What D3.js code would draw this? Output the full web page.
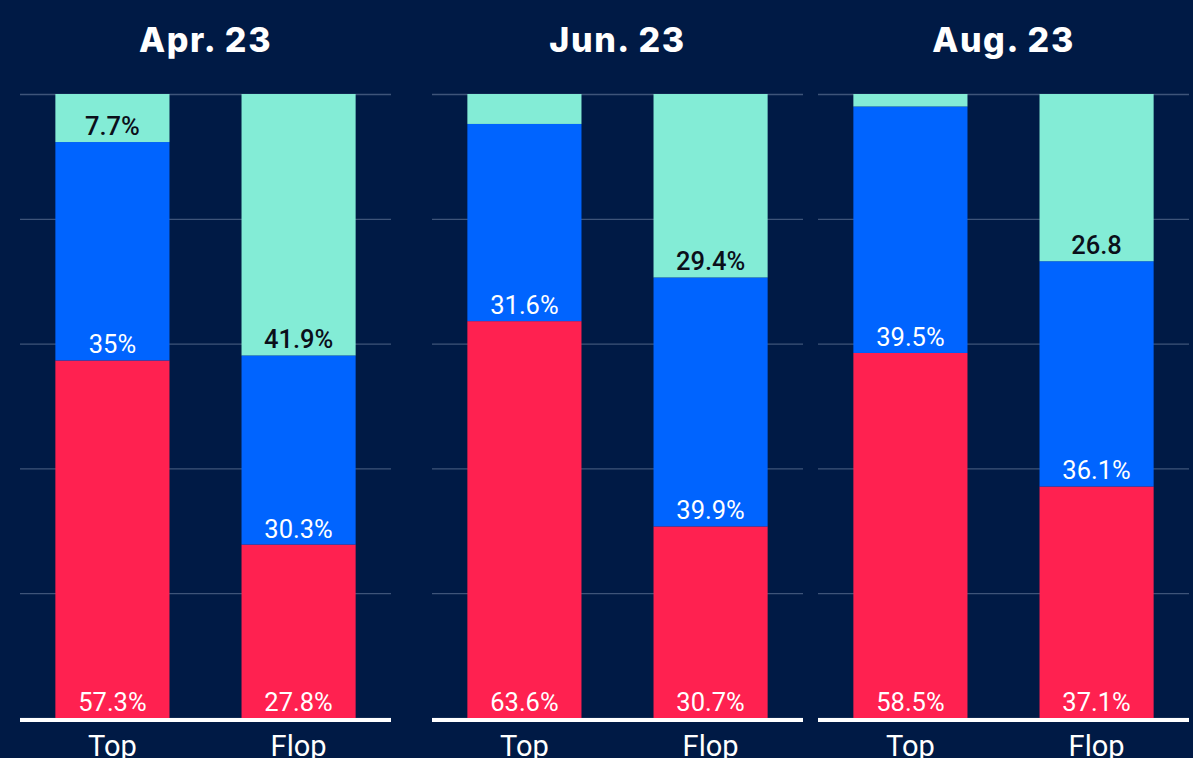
<!DOCTYPE html>
<html>
<head>
<meta charset="utf-8">
<script src="https://cdn.jsdelivr.net/npm/d3@7"></script>
<style>
  html, body { margin: 0; padding: 0; background: #001a45; }
  svg { display: block; }
</style>
</head>
<body>
<div id="chart"></div>
<script>
// Data
const periods = ["Apr. 23", "Jun. 23", "Aug. 23"];
const groups = ["Top", "Flop"];
// per period: [Top, Flop]
const redValues   = [[57.3, 27.8], [63.6, 30.7], [58.5, 37.1]];
const blueValues  = [[35.0, 30.3], [31.6, 39.9], [39.5, 36.1]];
const tealValues  = [[7.7, 41.9], [4.8, 29.4], [2.0, 26.8]];
const redLabels   = [["57.3%", "27.8%"], ["63.6%", "30.7%"], ["58.5%", "37.1%"]];
const blueLabels  = [["35%", "30.3%"], ["31.6%", "39.9%"], ["39.5%", "36.1%"]];
const tealLabels  = [["7.7%", "41.9%"], [null, "29.4%"], [null, "26.8"]];
const yTicks = [0, 20, 40, 60, 80, 100];

const W = 1193, H = 758;
const panelX = [20, 432, 818];
const panelW = 371;
const plotTop = 94, plotBottom = 718;

const series = [
  {values: redValues, labels: redLabels, color: "#ff2150", text: "#ffffff"},
  {values: blueValues, labels: blueLabels, color: "#0064ff", text: "#ffffff"},
  {values: tealValues, labels: tealLabels, color: "#83ecd6", text: "#0b0f1a"}
];

const svg = d3.select("#chart").append("svg")
  .attr("width", W).attr("height", H);

svg.append("rect").attr("width", W).attr("height", H).attr("fill", "#001a45");

const y = d3.scaleLinear().domain([0, 100]).range([plotBottom, plotTop]);
const x = d3.scaleBand().domain(groups).range([0, panelW])
  .paddingInner(0.387).paddingOuter(0.19);

periods.forEach((p, pi) => {
  const g = svg.append("g").attr("transform", `translate(${panelX[pi]},0)`);

  // gridlines
  g.append("g")
    .call(d3.axisLeft(y).tickValues(yTicks).tickSize(-panelW).tickFormat(""))
    .call(a => a.select(".domain").remove())
    .call(a => a.selectAll("line").attr("stroke", "#3e5479").attr("stroke-width", 1.3));

  // title
  g.append("text")
    .attr("x", panelW / 2).attr("y", 52)
    .attr("text-anchor", "middle")
    .attr("fill", "#ffffff")
    .style("font-family", "Inter, 'Open Sans', sans-serif")
    .style("font-weight", 800)
    .style("font-size", "34px")
    .style("letter-spacing", "1.6px")
    .text(p);

  // stacked bars
  const rows = groups.map((gr, gi) => {
    const r = {group: gr};
    series.forEach((s, si) => { r["s" + si] = s.values[pi][gi]; });
    return r;
  });
  const stacked = d3.stack().keys(["s0", "s1", "s2"])(rows);

  stacked.forEach((layer, si) => {
    const s = series[si];
    g.selectAll(".bar" + si)
      .data(layer)
      .enter().append("rect")
      .attr("x", d => x(d.data.group))
      .attr("y", d => y(d[1]))
      .attr("width", x.bandwidth())
      .attr("height", d => y(d[0]) - y(d[1]))
      .attr("fill", s.color);

    g.selectAll(".lab" + si)
      .data(layer)
      .enter().append("text")
      .filter((d, gi) => s.labels[pi][gi] !== null)
      .attr("x", d => x(d.data.group) + x.bandwidth() / 2)
      .attr("y", d => y(d[0]) - 7)
      .attr("text-anchor", "middle")
      .attr("fill", s.text)
      .style("font-family", "Roboto, sans-serif")
      .style("font-size", "25.5px")
      .style("font-weight", si === 2 ? 500 : 400)
      .text(d => s.labels[pi][groups.indexOf(d.data.group)]);
  });

  // baseline
  g.append("line")
    .attr("x1", 0).attr("x2", panelW)
    .attr("y1", plotBottom + 2).attr("y2", plotBottom + 2)
    .attr("stroke", "#ffffff").attr("stroke-width", 4);

  // category labels
  g.append("g")
    .attr("transform", `translate(0,${plotBottom})`)
    .call(d3.axisBottom(x).tickSize(0).tickPadding(17))
    .call(a => a.select(".domain").remove())
    .call(a => a.selectAll("text")
      .attr("fill", "#ffffff")
      .style("font-family", "Roboto, sans-serif")
      .style("font-size", "29px"));
});
</script>
</body>
</html>
